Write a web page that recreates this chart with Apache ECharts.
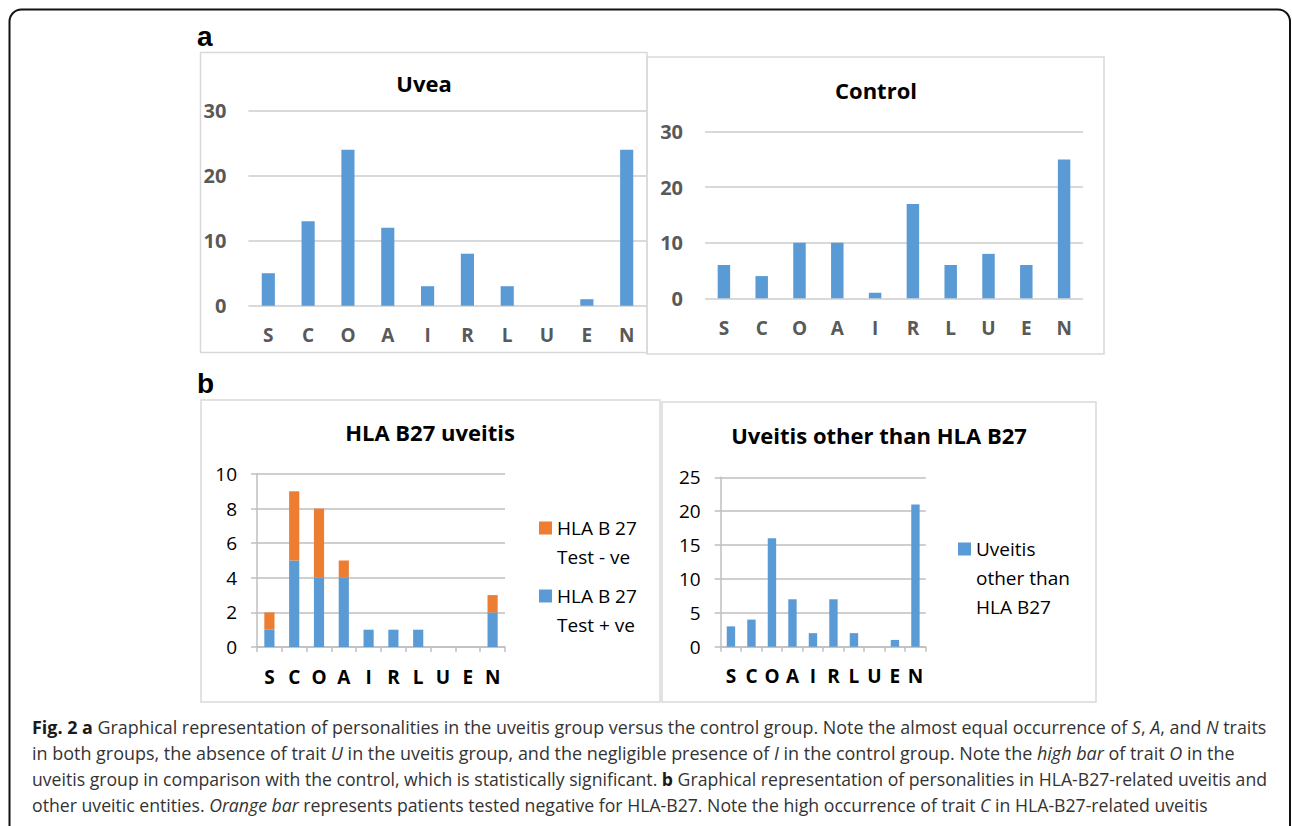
<!DOCTYPE html>
<html>
<head>
<meta charset="utf-8">
<script src="https://cdn.jsdelivr.net/npm/echarts@6/dist/echarts.min.js"></script>
<style>
  html, body { margin: 0; padding: 0; background: #fff; }
  #wrap { position: relative; width: 1292px; height: 826px; overflow: hidden; }
  #chart { position: absolute; left: 0; top: 0; width: 1292px; height: 826px; }
  #caption { position: absolute; left: 31.7px; top: 714px; font-family: "Open Sans", sans-serif; font-size: 18.5px; color: #333; }
  #caption .ln { position: absolute; left: 0; white-space: nowrap; line-height: 26px; height: 26px; transform-origin: 0 50%; display: inline-block; }
  #caption b { font-weight: 700; color: #1a1a1a; }
</style>
</head>
<body>
<div id="wrap">
  <div id="chart"></div>
  <div id="caption">
    <span class="ln" style="top:0px"><b>Fig. 2 a</b> Graphical representation of personalities in the uveitis group versus the control group. Note the almost equal occurrence of <i>S</i>, <i>A</i>, and <i>N</i> traits</span>
    <span class="ln" style="top:26px">in both groups, the absence of trait <i>U</i> in the uveitis group, and the negligible presence of <i>I</i> in the control group. Note the <i>high bar</i> of trait <i>O</i> in the</span>
    <span class="ln" style="top:52px">uveitis group in comparison with the control, which is statistically significant. <b>b</b> Graphical representation of personalities in HLA-B27-related uveitis and</span>
    <span class="ln" style="top:78px">other uveitic entities. <i>Orange bar</i> represents patients tested negative for HLA-B27. Note the high occurrence of trait <i>C</i> in HLA-B27-related uveitis</span>
  </div>
</div>
<script>
// ---- data ----
const traits = ['S', 'C', 'O', 'A', 'I', 'R', 'L', 'U', 'E', 'N'];
const uveaCounts = [5, 13, 24, 12, 3, 8, 3, 0, 1, 24];
const controlCounts = [6, 4, 10, 10, 1, 17, 6, 8, 6, 25];
const hlaPositive = [1, 5, 4, 4, 1, 1, 1, 0, 0, 2];
const hlaNegative = [1, 4, 4, 1, 0, 0, 0, 0, 0, 1];
const otherUveitis = [3, 4, 16, 7, 2, 7, 2, 0, 1, 21];
const panelTitles = ['Uvea', 'Control', 'HLA B27 uveitis', 'Uveitis other than HLA B27'];
const seriesNames = ['HLA B 27 Test + ve', 'HLA B 27 Test - ve', 'Uveitis other than HLA B27'];
const legendLines = [['HLA B 27', 'Test + ve'], ['HLA B 27', 'Test - ve'], ['Uveitis', 'other than', 'HLA B27']];
const yMax = [30, 30, 10, 25];
const yStep = [10, 10, 2, 5];

// ---- styles ----
const FONT = '"Open Sans", sans-serif';
const BLUE = '#5b9bd5';
const ORANGE = '#ed7d31';
const GRID_A = '#d9d9d9';
const GRID_B = '#bfbfbf';
const LEG_LH = 29;

const chart = echarts.init(document.getElementById('chart'), null, { renderer: 'svg' });

function axisA(i) {
  return {
    x: {
      type: 'category', gridIndex: i, data: traits,
      axisLine: { show: false }, axisTick: { show: false },
      axisLabel: { color: '#595959', fontWeight: 'bold', fontSize: 19, fontFamily: FONT, margin: 20, interval: 0 }
    },
    y: {
      type: 'value', gridIndex: i, min: 0, max: yMax[i], interval: yStep[i],
      axisLine: { show: false }, axisTick: { show: false },
      splitLine: { lineStyle: { color: GRID_A, width: 2 } },
      axisLabel: { color: '#595959', fontWeight: 'bold', fontSize: 20, fontFamily: FONT, margin: 22 }
    }
  };
}
function axisB(i) {
  return {
    x: {
      type: 'category', gridIndex: i, data: traits,
      axisLine: { show: true, lineStyle: { color: GRID_B, width: 1.5 } },
      axisTick: { show: true, length: 5, interval: 0, lineStyle: { color: GRID_B, width: 1.5 } },
      axisLabel: { color: '#000', fontWeight: 'bold', fontSize: 19, fontFamily: FONT, margin: 20, interval: 0 }
    },
    y: {
      type: 'value', gridIndex: i, min: 0, max: yMax[i], interval: yStep[i],
      axisLine: { show: true, lineStyle: { color: GRID_B, width: 1.5 } },
      axisTick: { show: true, length: 6, lineStyle: { color: GRID_B, width: 1.5 } },
      splitLine: { lineStyle: { color: GRID_B, width: 1.5 } },
      axisLabel: { color: '#000', fontSize: 19, fontFamily: FONT, margin: 20 }
    }
  };
}
const axes = [axisA(0), axisA(1), axisB(2), axisB(3)];

function titleAt(text, cx, top) {
  return { text: text, left: cx, top: top, textAlign: 'center', padding: 0,
    textStyle: { fontFamily: FONT, fontWeight: 'bold', fontSize: 22, color: '#000' } };
}
// the legend icon sits beside the first line: pad the block with blank lines on top
function legendLabel(lines) {
  const pad = [];
  for (let k = 1; k < lines.length; k++) pad.push('\u00a0');
  return pad.concat(lines).join('\n');
}
function legendAt(idx, left, firstLineCenter) {
  const n = legendLines[idx].length;
  return {
    data: [seriesNames[idx]], left: left, top: firstLineCenter - (2 * n - 1) * LEG_LH / 2,
    orient: 'vertical', padding: 0, selectedMode: false,
    itemWidth: 13, itemHeight: 13, icon: 'rect',
    formatter: () => legendLabel(legendLines[idx]),
    textStyle: { fontFamily: FONT, fontSize: 19, color: '#000', lineHeight: LEG_LH }
  };
}

const option = {
  animation: false,
  backgroundColor: '#fff',
  textStyle: { fontFamily: FONT },
  title: [
    titleAt(panelTitles[0], 424, 72),
    titleAt(panelTitles[1], 876, 79),
    titleAt(panelTitles[2], 430, 421),
    titleAt(panelTitles[3], 879, 424)
  ],
  grid: [
    { left: 248.4, top: 110.7, width: 398.2, height: 195 },
    { left: 705, top: 131.7, width: 378, height: 166.6 },
    { left: 257, top: 474, width: 248, height: 173 },
    { left: 720.7, top: 477.3, width: 205, height: 169.4 }
  ],
  xAxis: axes.map(a => a.x),
  yAxis: axes.map(a => a.y),
  legend: [
    legendAt(1, 539, 528),
    legendAt(0, 539, 596),
    legendAt(2, 958, 549)
  ],
  series: [
    { type: 'bar', name: 'Uvea', xAxisIndex: 0, yAxisIndex: 0, data: uveaCounts, barWidth: '33%', itemStyle: { color: BLUE } },
    { type: 'bar', name: 'Control', xAxisIndex: 1, yAxisIndex: 1, data: controlCounts, barWidth: '33%', itemStyle: { color: BLUE } },
    { type: 'bar', name: seriesNames[0], xAxisIndex: 2, yAxisIndex: 2, stack: 'hla', data: hlaPositive, barWidth: '41%', itemStyle: { color: BLUE } },
    { type: 'bar', name: seriesNames[1], xAxisIndex: 2, yAxisIndex: 2, stack: 'hla', data: hlaNegative, barWidth: '41%', itemStyle: { color: ORANGE } },
    { type: 'bar', name: seriesNames[2], xAxisIndex: 3, yAxisIndex: 3, data: otherUveitis, barWidth: '41%', itemStyle: { color: BLUE } }
  ],
  graphic: [
    { type: 'rect', shape: { x: 9.5, y: 9.5, width: 1280.5, height: 860, r: 12 }, style: { fill: 'none', stroke: '#111', lineWidth: 2 }, silent: true, z: -1 },
    { type: 'rect', shape: { x: 200.5, y: 52.5, width: 446.5, height: 300 }, style: { fill: 'none', stroke: GRID_A, lineWidth: 1.5 }, silent: true, z: -1 },
    { type: 'rect', shape: { x: 647, y: 57, width: 457, height: 297 }, style: { fill: 'none', stroke: GRID_A, lineWidth: 1.5 }, silent: true, z: -1 },
    { type: 'rect', shape: { x: 201, y: 400, width: 459, height: 302 }, style: { fill: 'none', stroke: GRID_A, lineWidth: 1.5 }, silent: true, z: -1 },
    { type: 'rect', shape: { x: 662, y: 402, width: 434, height: 300 }, style: { fill: 'none', stroke: GRID_A, lineWidth: 1.5 }, silent: true, z: -1 },
    { type: 'text', x: 197, y: 36, style: { text: 'a', font: 'bold 28px "Liberation Sans", Arial, sans-serif', fill: '#000', verticalAlign: 'middle' }, silent: true },
    { type: 'text', x: 197, y: 383, style: { text: 'b', font: 'bold 28px "Liberation Sans", Arial, sans-serif', fill: '#000', verticalAlign: 'middle' }, silent: true }
  ]
};
chart.setOption(option);

// fit caption lines to the widths they occupy in the figure
const captionWidths = [1234.3, 1202.6, 1235, 1175.6];
function fitCaption() {
  const lines = document.querySelectorAll('#caption .ln');
  lines.forEach((el, i) => {
    el.style.transform = 'none';
    const w = el.getBoundingClientRect().width;
    if (w > 0) el.style.transform = 'scaleX(' + (captionWidths[i] / w) + ')';
  });
}
fitCaption();
if (document.fonts && document.fonts.ready) document.fonts.ready.then(() => { fitCaption(); chart.resize(); });
</script>
</body>
</html>
